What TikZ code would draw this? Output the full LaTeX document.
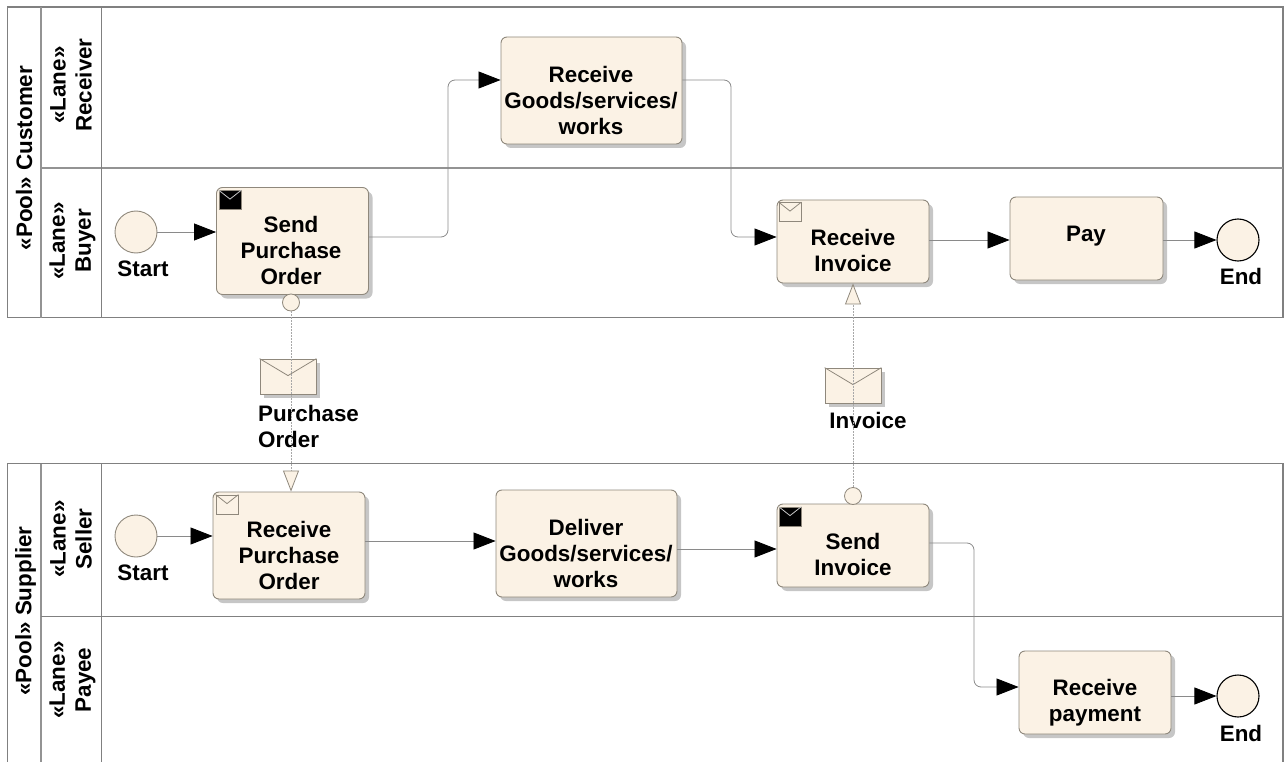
\documentclass[tikz,border=0pt]{standalone}
\usepackage{fontspec}
\setmainfont{Liberation Sans}
\usetikzlibrary{arrows.meta,shadows,calc}
\definecolor{cream}{HTML}{FBF2E5}
\definecolor{edgeg}{HTML}{8F887C}
\definecolor{lineg}{HTML}{8A8A8A}
\definecolor{dashg}{HTML}{A8A8A8}
\definecolor{poolg}{HTML}{808080}
\definecolor{shade}{HTML}{C6C6C6}
\tikzset{
  txt/.style={font=\fontsize{22.4}{26}\bfseries\selectfont,align=center,inner sep=0pt,text=black},
  tasktxt/.style={txt},
  task/.style={draw=edgeg,line width=.9pt,fill=cream,rounded corners=6pt,inner sep=0pt,
    drop shadow={shadow xshift=4pt,shadow yshift=-4pt,fill=shade,opacity=1}},
  startev/.style={circle,draw=edgeg,line width=.9pt,fill=cream,minimum size=42pt,inner sep=0pt},
  endev/.style={circle,draw=black,line width=1.1pt,fill=cream,minimum size=42pt,inner sep=0pt},
  port/.style={circle,draw=edgeg,line width=.8pt,fill=cream,minimum size=17pt,inner sep=0pt},
  envbox/.style={draw=edgeg,line width=.8pt,fill=cream,inner sep=0pt,minimum width=56pt,minimum height=35pt,
    drop shadow={shadow xshift=4pt,shadow yshift=-4pt,fill=shade,opacity=1}},
  iconbox/.style={draw=edgeg,line width=.8pt,fill=cream,inner sep=0pt,minimum width=22pt,minimum height=19pt},
  iconblack/.style={draw=edgeg,line width=.8pt,fill=black,inner sep=0pt,minimum width=22pt,minimum height=19pt},
  flow/.style={draw=lineg,line width=.8pt,rounded corners=7pt,-{Triangle[length=22pt,width=17pt,color=black]}},
  msg/.style={draw=dashg,line width=1pt,dash pattern=on 2pt off 1pt,-{Triangle[length=21pt,width=16pt,fill=cream,color=edgeg,line width=.8pt]}},
  poolline/.style={draw=poolg,line width=1.1pt},
  thickline/.style={draw=poolg!85,line width=2pt}
}
\newcommand{\envV}[3]{\draw[#3,line width=.8pt] (#1.north west) -- ($(#1.north west)!.5!(#1.north east)+(0,-#2)$) -- (#1.north east);}
\begin{document}
\begin{tikzpicture}[x=1pt,y=-1pt]
\useasboundingbox (0,0) rectangle (1288,762);
\clip (0,0) rectangle (1288,762);
% pool Customer
\draw[poolline] (1283,7) -- (7.5,7) -- (7.5,317.5) -- (1283,317.5) -- cycle;
\draw[thickline] (41,7) -- (41,317.5);
\draw[thickline] (41,168.5) -- (1283,168.5);
\draw[poolline] (101.5,7) -- (101.5,317.5);
% pool Supplier
\draw[poolline] (7.5,770) -- (7.5,463.5) -- (1283,463.5) -- (1283,770);
\draw[thickline] (41,463.5) -- (41,770);
\draw[poolline] (41,616.5) -- (1283,616.5);
\draw[poolline] (101.5,463.5) -- (101.5,770);
% headers
\node[txt,rotate=90] (p1) at (24,158) {«Pool» Customer};
\node[txt,rotate=90] (p2) at (25.5,611) {«Pool» Supplier};
\node[txt,rotate=90] (l1) at (71,85) {«Lane»\\Receiver};
\node[txt,rotate=90] (l2) at (72.5,241) {«Lane»\\Buyer};
\node[txt,rotate=90] (l3) at (71,539) {«Lane»\\Seller};
\node[txt,rotate=90] (l4) at (72.5,680) {«Lane»\\Payee};
% events
\node[startev] (s1) at (136,232) {};
\node[startev] (s2) at (136,536) {};
\node[endev] (e1) at (1238,240) {};
\node[endev] (e2) at (1238,696) {};
\node[txt] (s1t) at (143,269) {Start};
\node[txt] (s2t) at (143,573) {Start};
\node[txt] (e1t) at (1241,276) {End};
\node[txt] (e2t) at (1241,733) {End};
% tasks
\node[task,minimum width=152pt,minimum height=107pt] (sendpo) at (292.5,241) {};
\node[task,minimum width=181pt,minimum height=107pt] (recvgoods) at (591.5,90.5) {};
\node[task,minimum width=152pt,minimum height=83pt] (recvinv) at (853,241.5) {};
\node[task,minimum width=153pt,minimum height=83pt] (pay) at (1086.5,238.5) {};
\node[task,minimum width=152pt,minimum height=107pt] (recvpo) at (289,545.5) {};
\node[task,minimum width=181pt,minimum height=107pt] (deliver) at (586.5,543.5) {};
\node[task,minimum width=152pt,minimum height=83pt] (sendinv) at (853,545.5) {};
\node[task,minimum width=152pt,minimum height=83pt] (recvpay) at (1095,692.5) {};
\node[tasktxt] (sendpot) at (291,250) {Send\\Purchase\\Order};
\node[tasktxt] (recvgoodst) at (591,100) {Receive\\Goods/services/\\works};
\node[tasktxt] (recvinvt) at (853,250) {Receive\\Invoice};
\node[tasktxt] (payt) at (1086,236.5) {Pay};
\node[tasktxt] (recvpot) at (289,555) {Receive\\Purchase\\Order};
\node[tasktxt] (delivert) at (586,553.5) {Deliver\\Goods/services/\\works};
\node[tasktxt] (sendinvt) at (853,554) {Send\\Invoice};
\node[tasktxt] (recvpayt) at (1095,703) {Receive\\payment};
% task icons
\node[iconblack] (i1) at (230,200) {}; \envV{i1}{9pt}{draw=shade}
\node[iconbox] (i2) at (790,212) {}; \envV{i2}{9pt}{draw=edgeg}
\node[iconbox] (i3) at (227,504.5) {}; \envV{i3}{9pt}{draw=edgeg}
\node[iconblack] (i4) at (790,516.5) {}; \envV{i4}{9pt}{draw=shade}
% ports
\node[port] (m1) at (291,302.5) {};
\node[port] (m2) at (853,496) {};
% message envelopes
\node[envbox] (env1) at (288,376.5) {}; \envV{env1}{17pt}{draw=edgeg}
\node[envbox] (env2) at (853,385.5) {}; \envV{env2}{17pt}{draw=edgeg}
\node[txt,align=left] (env1t) at (308.5,426) {Purchase\\Order};
\node[txt] (env2t) at (868,420) {Invoice};
% sequence flows
\coordinate (b1) at (448,80);
\coordinate (b2) at (731,237);
\coordinate (b3) at (974,687);
\draw[flow] (s1) -- (sendpo.west |- s1);
\draw[flow] (sendpo.east |- 0,237) -| (b1) -- (recvgoods.west |- b1);
\draw[flow] (recvgoods.east |- b1) -| (b2) -- (recvinv.west |- b2);
\draw[flow] (recvinv.east |- 0,240) -- (pay.west |- 0,240);
\draw[flow] (pay.east |- e1.west) -- (e1.west);
\draw[flow] (s2) -- (recvpo.west |- s2);
\draw[flow] (recvpo.east |- 0,541) -- (deliver.west |- 0,541);
\draw[flow] (deliver.east |- 0,549) -- (sendinv.west |- 0,549);
\draw[flow] (sendinv.east |- 0,543) -| (b3) -- (recvpay.west |- b3);
\draw[flow] (recvpay.east |- e2.west) -- (e2.west);
% message flows
\draw[msg] (m1.south) -- (m1.south |- recvpo.north);
\draw[msg] (m2.north) -- (m2.north |- recvinv.south);
\end{tikzpicture}
\end{document}
